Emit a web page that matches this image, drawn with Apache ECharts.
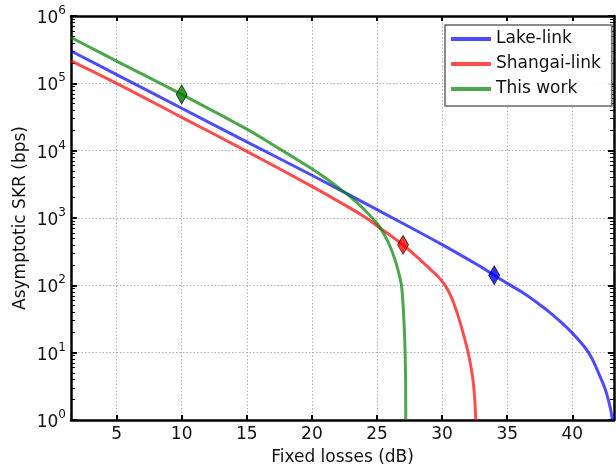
<!DOCTYPE html>
<html><head><meta charset="utf-8">
<script src="https://cdn.jsdelivr.net/npm/echarts@6/dist/echarts.min.js"></script>
<style>html,body{margin:0;padding:0;background:#fff}#c{width:616px;height:469px}</style>
</head><body><div id="c"></div>
<script>
const seriesNames = ['Lake-link', 'Shangai-link', 'This work'];

const lakeX = [1.5, 5, 10, 15, 20, 25, 30, 32.92, 34, 35, 36.5, 38, 39, 40, 41.25, 42.1, 42.5, 42.76, 42.95, 43.03, 43.07];
const lakeY = [302000, 135000, 42700, 13500, 4320, 1330, 403, 191, 141, 107, 71.5, 43.5, 29.8, 19.5, 10, 4.57, 2.95, 2.0, 1.41, 1.15, 1];

const shangaiX = [1.5, 5, 10, 15, 20, 22, 24, 25.25, 26.93, 28, 29, 29.7, 30.23, 30.7, 31.17, 31.6, 32.0, 32.25, 32.4, 32.5, 32.55, 32.58];
const shangaiY = [216000, 100000, 31300, 9770, 2950, 1780, 1050, 708, 407, 272, 180, 134, 100, 67.6, 38, 20, 10, 5.6, 3.55, 2.1, 1.4, 1];

const workX = [1.5, 5, 10, 15, 17.46, 19.1, 20, 21.1, 22.17, 22.94, 24.0, 25, 25.25, 25.6, 26.0, 26.4, 26.77, 26.9, 27.0, 27.1, 27.15, 27.18, 27.2, 27.21];
const workY = [479000, 214000, 68400, 20900, 10800, 6920, 5370, 3850, 2690, 2070, 1350, 832, 708, 550, 380, 235, 128, 92, 52, 21.9, 11.2, 6.3, 2.8, 1];

const markerX = [34, 27, 10];
const markerY = [141, 400, 68400];

const xTicks = [5, 10, 15, 20, 25, 30, 35, 40];
const yTicks = [1, 10, 100, 1000, 10000, 100000, 1000000];

const lineColors = ['rgba(0,0,255,0.7)', 'rgba(255,0,0,0.7)', 'rgba(0,128,0,0.7)'];
const markerColors = ['#0000ff', '#ff0000', '#007f00'];

const minorTicks = [];
yTicks.slice(0, -1).forEach(d => { for (let k = 2; k <= 9; k++) minorTicks.push(d * k); });

const FONT = 'DejaVu Sans';
const zip = (xs, ys) => xs.map((x, i) => [x, ys[i]]);

const spine = { show: true, onZero: false, lineStyle: { color: '#000', width: 2.5 } };

const chart = echarts.init(document.getElementById('c'), null, { renderer: 'canvas' });
chart.setOption({
  animation: false,
  backgroundColor: '#fff',
  textStyle: { fontFamily: FONT },
  grid: { left: 71, right: 2, top: 16, bottom: 49, containLabel: false, outerBoundsMode: 'none' },
  legend: {
    data: seriesNames,
    orient: 'vertical',
    left: 445, top: 25,
    padding: [4, 11, 7, 6],
    itemGap: 5,
    itemWidth: 40, itemHeight: 4,
    icon: 'rect',
    itemStyle: { borderWidth: 0 },
    textStyle: { fontFamily: FONT, fontSize: 17, color: '#111', lineHeight: 20 },
    borderColor: '#666', borderWidth: 1.5, borderRadius: 0,
    backgroundColor: 'rgba(255,255,255,0.85)'
  },
  xAxis: [{
    type: 'value', min: 1.5, max: 43.2,
    name: 'Fixed losses (dB)', nameLocation: 'middle', nameGap: 29, nameMoveOverlap: false,
    nameTextStyle: { fontFamily: FONT, fontSize: 17, color: '#111' },
    axisLine: spine,
    axisTick: { show: true, inside: true, length: 5, lineStyle: { color: '#000', width: 2 }, customValues: xTicks },
    axisLabel: { customValues: xTicks, margin: 6, fontFamily: FONT, fontSize: 17, color: '#111' },
    splitLine: { show: true, lineStyle: { color: '#b0b0b0', width: 1, type: [1.5, 2] } }
  }, {
    type: 'value', min: 1.5, max: 43.2, position: 'top',
    axisLine: spine,
    axisTick: { show: true, inside: true, length: 5, lineStyle: { color: '#000', width: 2 }, customValues: xTicks },
    axisLabel: { show: false },
    splitLine: { show: false }
  }],
  yAxis: [{
    type: 'log', logBase: 10, min: 1, max: 1000000,
    name: 'Asymptotic SKR (bps)', nameLocation: 'middle', nameGap: 42, nameMoveOverlap: false,
    nameTextStyle: { fontFamily: FONT, fontSize: 17, color: '#111' },
    axisLine: spine,
    axisTick: { show: true, inside: true, length: 6, lineStyle: { color: '#000', width: 2 }, customValues: yTicks },
    axisLabel: {
      customValues: yTicks, margin: 5,
      formatter: v => '{b|10}{s|' + Math.round(Math.log10(v)) + '}',
      rich: {
        b: { fontFamily: FONT, fontSize: 17, color: '#111', lineHeight: 22, verticalAlign: 'bottom' },
        s: { fontFamily: FONT, fontSize: 12, color: '#111', lineHeight: 14, verticalAlign: 'top' }
      }
    },
    splitLine: { show: true, lineStyle: { color: '#b0b0b0', width: 1, type: [1.5, 2] } }
  }, {
    type: 'log', logBase: 10, min: 1, max: 1000000, position: 'left',
    axisLine: { show: false },
    axisTick: { show: true, inside: true, length: 4, lineStyle: { color: '#000', width: 1 }, customValues: minorTicks },
    axisLabel: { show: false }, splitLine: { show: false }
  }, {
    type: 'log', logBase: 10, min: 1, max: 1000000, position: 'right',
    axisLine: spine,
    axisTick: { show: true, inside: true, length: 6, lineStyle: { color: '#000', width: 2 }, customValues: yTicks },
    axisLabel: { show: false }, splitLine: { show: false }
  }, {
    type: 'log', logBase: 10, min: 1, max: 1000000, position: 'right',
    axisLine: { show: false },
    axisTick: { show: true, inside: true, length: 4, lineStyle: { color: '#000', width: 1 }, customValues: minorTicks },
    axisLabel: { show: false }, splitLine: { show: false }
  }],
  series: [
    { name: seriesNames[0], type: 'line', data: zip(lakeX, lakeY), color: lineColors[0], showSymbol: false, symbol: 'none', smooth: 0.4, lineStyle: { width: 3, color: lineColors[0], join: 'round' }, z: 2 },
    { name: seriesNames[1], type: 'line', data: zip(shangaiX, shangaiY), color: lineColors[1], showSymbol: false, symbol: 'none', smooth: 0.4, lineStyle: { width: 3, color: lineColors[1], join: 'round' }, z: 3 },
    { name: seriesNames[2], type: 'line', data: zip(workX, workY), color: lineColors[2], showSymbol: false, symbol: 'none', smooth: 0.4, lineStyle: { width: 3, color: lineColors[2], join: 'round' }, z: 4 },
    {
      type: 'scatter', z: 10, symbol: 'diamond', symbolSize: [11, 19],
      data: markerX.map((x, i) => ({ value: [x, markerY[i]], itemStyle: { color: markerColors[i], borderColor: '#000', borderWidth: 0.8 } }))
    }
  ]
});
</script></body></html>
